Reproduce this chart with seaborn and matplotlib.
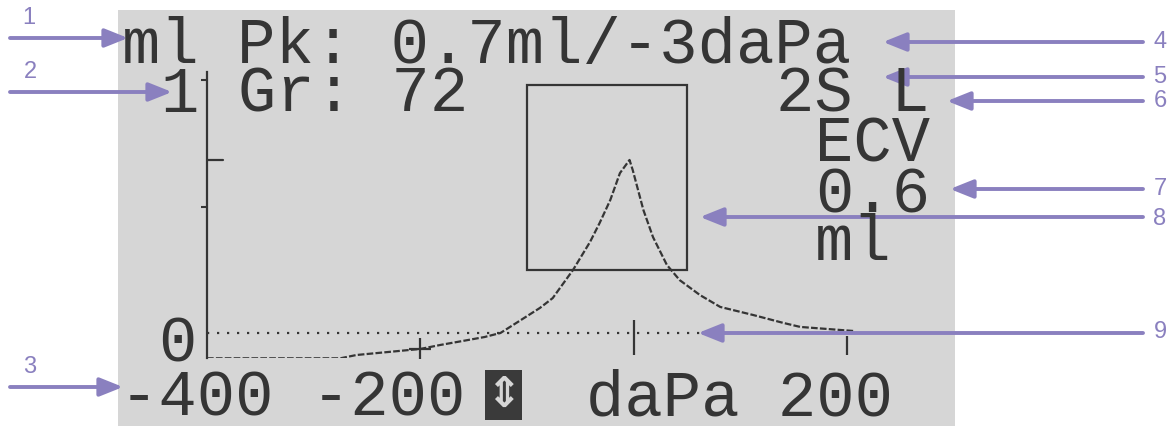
import matplotlib
matplotlib.use("Agg")
import matplotlib.pyplot as plt
from matplotlib.patches import Rectangle
import numpy as np
import pandas as pd
import seaborn as sns

# tympanogram trace (daPa, ml)
pressure = [-400, -275, -260, -230, -200, -181, -161, -140, -125, -116, -88, -76,
            -57, -41, -32, -22, -13, -4, -1, 9, 18, 31, 43, 62, 81, 112, 140, 156, 206]
compliance = [-0.10, -0.10, -0.087, -0.075, -0.063, -0.047, -0.032, -0.016, 0.0, 0.024,
              0.099, 0.138, 0.249, 0.36, 0.435, 0.526, 0.632, 0.684, 0.644, 0.486, 0.379,
              0.269, 0.209, 0.15, 0.103, 0.071, 0.04, 0.024, 0.008]

peak_pressure = -3
peak_ml = 0.684
box_pressure = [-100, 50]
box_ml = [0.25, 0.98]
zero_line = [-400, 205]
x_marks = [0, 200]
x_mark_low = [-0.087, -0.087]
x_mark_high = [0.05, -0.01]
cross_mark = (-200, -0.063)
y_ticks = [0.5, 1.0]

# screen text rows: (text, x px, baseline px)
screen_text = [
    ("ml Pk: 0.7ml/-3daPa", 122, 63),
    ("1", 160, 112),
    ("Gr: 72", 238, 112),
    ("2S L", 776, 112),
    ("ECV", 815, 162),
    ("0.6", 815, 212),
    ("ml", 815, 260),
    ("0", 158, 361),
    ("-400 -200", 120, 415),
    ("daPa 200", 586, 415),
]

# callouts: (label, label x, label y, arrow start x, arrow tip x, arrow y)
callouts = [
    ("1", 29, 18, 10, 128, 38),
    ("2", 30, 72, 10, 172, 92),
    ("3", 30, 367, 10, 123, 387),
    ("4", 1160, 42, 1143, 883, 42),
    ("5", 1160, 77, 1143, 883, 77),
    ("6", 1160, 101, 1143, 947, 101),
    ("7", 1160, 189, 1143, 950, 189),
    ("8", 1160, 219, 1143, 700, 217),
    ("9", 1160, 332, 1143, 698, 333),
]

W, H = 1173, 426
lcd_bg = "#d6d6d6"
ink = "#353535"
purple = "#8a80bf"

sns.set_theme(style="white")
plt.rcParams["font.family"] = ["Liberation Mono", "DejaVu Sans"]

fig = plt.figure(figsize=(W / 100, H / 100), dpi=100)
fig.patch.set_facecolor("white")
fig.patches.append(Rectangle((118 / W, 0), (955 - 118) / W, (H - 10) / H,
                             transform=fig.transFigure, fc=lcd_bg, ec="none", zorder=-5))

# plot area: -400..300 daPa over x 207..954 px, -0.1..1.0 ml over y 358..80 px
ax = fig.add_axes([207 / W, (H - 358.3) / H, 746.9 / W, 278.3 / H])
ax.set_facecolor("none")
ax.set_xlim(-400, 300)
ax.set_ylim(-0.1, 1.0)
for s in ["top", "right", "bottom"]:
    ax.spines[s].set_visible(False)
ax.spines["left"].set_color(ink)
ax.spines["left"].set_linewidth(1.6)
ax.spines["left"].set_bounds(-0.1, 1.03)
ax.set_xticks([])
ax.set_yticks(y_ticks)
ax.set_yticklabels([])
ax.tick_params(axis="y", length=4, width=1.5, color=ink, direction="out", left=True)

df = pd.DataFrame({"daPa": pressure, "ml": compliance})
sns.lineplot(data=df, x="daPa", y="ml", ax=ax, color=ink, lw=1.6,
             linestyle=(0, (3, 1)), sort=False, estimator=None)
ax.plot(zero_line, [0, 0], color=ink, lw=1.6, linestyle=(0, (1, 3.5)))
ax.add_patch(Rectangle((box_pressure[0], box_ml[0]), box_pressure[1] - box_pressure[0],
                       box_ml[1] - box_ml[0], fill=False, ec=ink, lw=1.6))
ax.plot([-400, -385], [peak_ml, peak_ml], color=ink, lw=1.6)
ax.vlines(x_marks, x_mark_low, x_mark_high, color=ink, lw=1.6)
ax.plot(*cross_mark, marker="+", ms=16, mew=1.6, color=ink)
ax.set_xlabel("")
ax.set_ylabel("")

for s, x, y in screen_text:
    fig.text(x / W, 1 - y / H, s, fontsize=46, color=ink, ha="left", va="baseline")

# pressure-direction icon
fig.patches.append(Rectangle((485 / W, 1 - 420 / H), 37 / W, 50 / H,
                             transform=fig.transFigure, fc="#3a3a3a", ec="none", zorder=1))
fig.text(503.5 / W, 1 - 395 / H, "\u21D5", fontsize=30, color=lcd_bg, ha="center",
         va="center", family=["DejaVu Sans"], fontweight="bold")

for lab, lx, ly, x0, x1, y in callouts:
    ax.annotate("", xy=(x1, H - y), xycoords="figure pixels", xytext=(x0, H - y),
                textcoords="figure pixels", annotation_clip=False,
                arrowprops=dict(arrowstyle="-|>,head_length=1.0,head_width=0.4",
                                color=purple, lw=2.8, mutation_scale=14,
                                shrinkA=0, shrinkB=0))
    fig.text(lx / W, 1 - ly / H, lab, fontsize=17, color=purple, ha="center",
             va="center", family=["Liberation Sans", "DejaVu Sans"])

fig.savefig("out.png", dpi=100)
